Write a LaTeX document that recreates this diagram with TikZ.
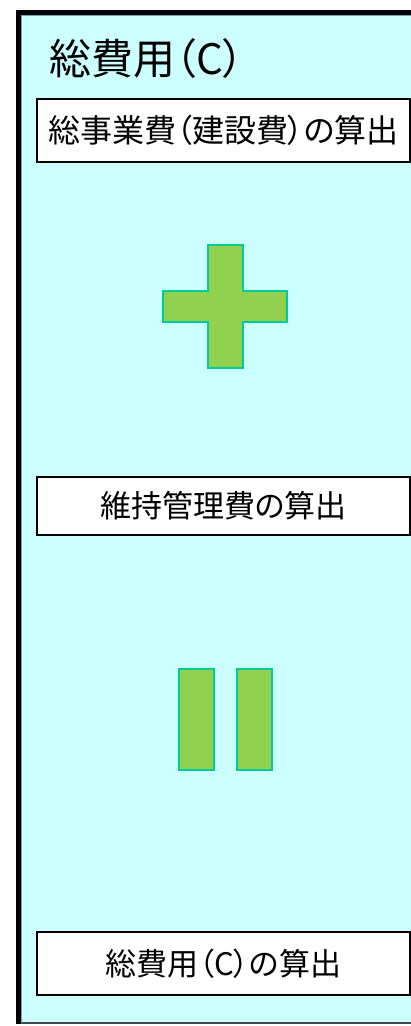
\documentclass[tikz,border=0pt]{standalone}
\usepackage{fontspec}
\newfontfamily\jp[RawFeature=+palt]{Noto Sans CJK JP}
\definecolor{bgcyan}{HTML}{CCFFFF}
\definecolor{symfill}{HTML}{92D050}
\definecolor{symedge}{HTML}{00CC99}
\tikzset{
  stepbox/.style={draw=black, line width=2.5pt, fill=white, minimum width=373pt, inner sep=0pt, font=\jp\fontsize{31}{31}\selectfont},
  sym/.style={fill=symfill, draw=symedge, line width=2.2pt},
}
\begin{document}
\begin{tikzpicture}[x=1pt,y=-1pt]
\useasboundingbox (0,0) rectangle (411,1026);
% outer panel
\fill[bgcyan] (18,12) rectangle (412,1023.5);
\draw[black!80!cyan, line width=1.5pt] (16,1023.2) -- (412,1023.2);
\draw[gray!60!cyan, line width=1pt] (21.5,15) -- (21.5,1023);
\draw[gray!60!cyan, line width=1pt] (21,15.8) -- (412,15.8);
\draw[black, line width=5pt] (18.5,10) -- (18.5,1024);
\draw[black, line width=5pt] (16,12.5) -- (412,12.5);
% title
\node[anchor=west, inner sep=0pt, font=\jp\fontsize{42}{42}\selectfont] (title) at (49,59) {総費用（C）};
% boxes
\node[stepbox, minimum height=63pt, font=\jp\fontsize{32}{32}\selectfont] (b1) at (223.5,130.5) {総事業費（建設費）の算出};
\node[stepbox, minimum height=58pt] (b2) at (223.5,506) {維持管理費の算出};
\node[stepbox, minimum height=63pt] (b3) at (223.5,963.5) {総費用（C）の算出};
% plus
\draw[sym] (208,245) -- (243,245) -- (243,291) -- (287,291) -- (287,322) -- (243,322) -- (243,368) -- (208,368) -- (208,322) -- (163,322) -- (163,291) -- (208,291) -- cycle;
% equals (vertical bars)
\draw[sym] (179,669) rectangle (214,770);
\draw[sym] (237,669) rectangle (272,770);
\end{tikzpicture}
\end{document}
